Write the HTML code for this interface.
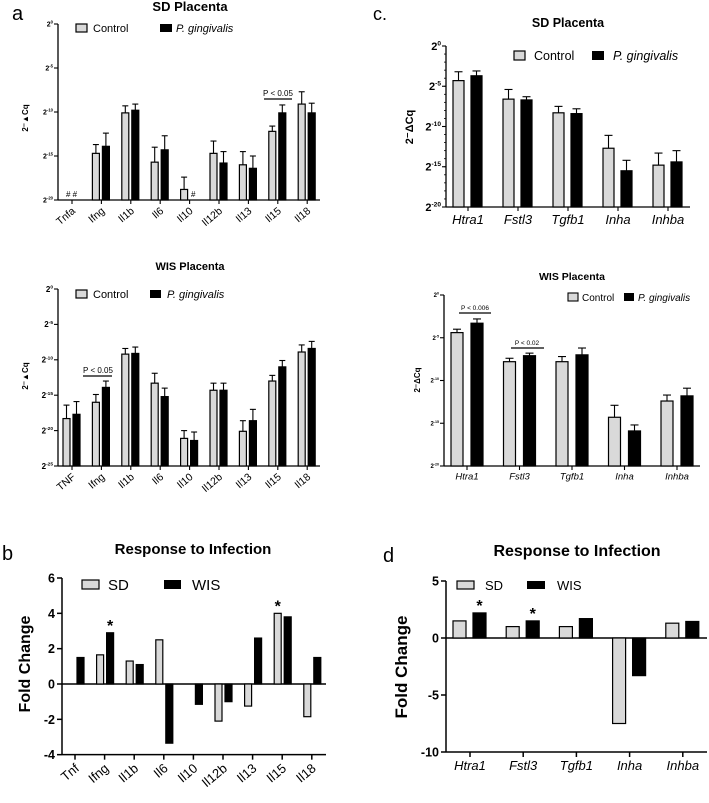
<!DOCTYPE html>
<html><head><meta charset="utf-8"><style>
html,body{margin:0;padding:0;background:#fff;}
svg{display:block;font-family:"Liberation Sans",Arial,sans-serif;}
</style></head><body>
<svg id="fig" width="709" height="803" viewBox="0 0 709 803" xmlns="http://www.w3.org/2000/svg">
<rect x="0" y="0" width="709" height="803" fill="#fff"/>
<text x="12" y="20" font-size="20">a</text>
<text x="373" y="20" font-size="18">c.</text>
<text x="2" y="560" font-size="20">b</text>
<text x="383" y="562" font-size="20">d</text>
</svg>
<script>
// ---- Panel a (SD placenta), log2 values (exponents) ----
var aGenes = ["Tnfa","Ifng","Il1b","Il6","Il10","Il12b","Il13","Il15","Il18"];
var aSdCtrl = [null,-14.7,-10.1,-15.7,-18.8,-14.7,-16.0,-12.2,-9.1];
var aSdCtrlErr = [null,-13.7,-9.3,-14.0,-17.4,-13.3,-14.5,-11.6,-7.7];
var aSdPg = [null,-13.9,-9.8,-14.3,null,-15.8,-16.4,-10.1,-10.1];
var aSdPgErr = [null,-12.4,-9.1,-12.7,null,-14.5,-15.0,-9.2,-9.0];
var aSdTicks = [0,-5,-10,-15,-20];
// ---- Panel a (WIS placenta) ----
var aWisGenes = ["TNF","Ifng","Il1b","Il6","Il10","Il12b","Il13","Il15","Il18"];
var aWisCtrl = [-18.3,-16.0,-9.2,-13.3,-21.1,-14.3,-20.1,-13.0,-8.9];
var aWisCtrlErr = [-16.4,-14.9,-8.4,-11.9,-20.0,-13.3,-18.6,-12.2,-7.9];
var aWisPg = [-17.7,-13.9,-9.1,-15.2,-21.4,-14.3,-18.6,-11.0,-8.4];
var aWisPgErr = [-15.9,-13.0,-8.2,-14.0,-20.2,-13.3,-17.0,-10.1,-7.4];
var aWisTicks = [0,-5,-10,-15,-20,-25];
// ---- Panel b ----
var bGenes = ["Tnf","Ifng","Il1b","Il6","Il10","Il12b","Il13","Il15","Il18"];
var bSD = [null,1.65,1.3,2.5,null,-2.1,-1.25,4.0,-1.85];
var bWIS = [1.5,2.9,1.1,-3.35,-1.15,-1.0,2.6,3.8,1.5];
var bTicks = [6,4,2,0,-2,-4];
// ---- Panel c (SD) ----
var cGenes = ["Htra1","Fstl3","Tgfb1","Inha","Inhba"];
var cSdCtrl = [-4.3,-6.6,-8.3,-12.7,-14.8];
var cSdCtrlErr = [-3.2,-5.4,-7.5,-11.1,-13.3];
var cSdPg = [-3.7,-6.7,-8.4,-15.5,-14.4];
var cSdPgErr = [-3.1,-6.3,-7.8,-14.2,-13.0];
var cSdTicks = [0,-5,-10,-15,-20];
// ---- Panel c (WIS) ----
var cWisCtrl = [-4.4,-7.8,-7.8,-14.3,-12.4];
var cWisCtrlErr = [-4.0,-7.4,-7.2,-12.9,-11.7];
var cWisPg = [-3.3,-7.1,-7.0,-15.9,-11.8];
var cWisPgErr = [-2.8,-6.8,-6.2,-15.2,-10.9];
var cWisTicks = [0,-5,-10,-15,-20];
// ---- Panel d ----
var dGenes = ["Htra1","Fstl3","Tgfb1","Inha","Inhba"];
var dSD = [1.5,1.0,1.0,-7.5,1.3];
var dWIS = [2.2,1.5,1.7,-3.3,1.45];
var dTicks = [5,0,-5,-10];

var NS="http://www.w3.org/2000/svg";
var svg=document.getElementById('fig');
function mk(tag,attrs,name){
  var el=document.createElementNS(NS,tag);
  for(var k in attrs) el.setAttribute(k,attrs[k]);
  
  
  svg.appendChild(el);
  return el;
}
function txt(x,y,s,size,name,extra){
  var a={x:x,y:y,'font-size':size};
  for(var k in extra) a[k]=extra[k];
  var t=mk('text',a,name); t.textContent=s; return t;
}
function pow2(x,y,exp,size,name,anchor){
  var t=mk('text',{x:x,y:y,'font-size':size,'font-weight':'bold','text-anchor':anchor||'end'},name);
  var b=document.createElementNS(NS,'tspan'); b.textContent='2'; t.appendChild(b);
  var s=document.createElementNS(NS,'tspan'); s.setAttribute('font-size',size*0.6); s.setAttribute('dy',-size*0.4); s.textContent=String(exp); t.appendChild(s);
  return t;
}
function line(x1,y1,x2,y2,w,name){return mk('line',{x1:x1,y1:y1,x2:x2,y2:y2,stroke:'#000','stroke-width':w},name);}

function logChart(o){
  var ys=function(v){return o.yTop+(o.yBot-o.yTop)*(v-o.vTop)/(o.vBot-o.vTop);};
  var xc=function(i){return o.x0c+i*o.step;};
  line(o.ax,o.yTop,o.ax,o.yBot,1.3,o.p+'-y-axis');
  line(o.ax,o.yBot,o.axEnd,o.yBot,1.3,o.p+'-x-axis');
  if(o.minor){for(var m=o.vTop;m>=o.vBot;m--){line(o.ax-2,ys(m),o.ax,ys(m),0.8,o.p+'-minor-tick');}}
  o.ticks.forEach(function(t){
    line(o.ax-4,ys(t),o.ax,ys(t),1.1,o.p+'-y-tick');
    pow2(o.ax-5,ys(t)+o.tf*0.35,t,o.tf,o.p+'-y-tick-label');
  });
  o.genes.forEach(function(g,i){
    line(xc(i),o.yBot,xc(i),o.yBot+4,1.1,o.p+'-x-tick');
    if(o.rot){txt(xc(i)+4,o.yBot+12,g,o.xf,o.p+'-x-label',{'text-anchor':'end',transform:'rotate(-40 '+(xc(i)+4)+' '+(o.yBot+12)+')'});}
    else{txt(xc(i),o.yBot+o.xf+4,g,o.xf,o.p+'-x-label',{'text-anchor':'middle','font-style':'italic'});}
    [[o.ctrl,o.ctrlErr,'#d9d9d9',o.cOff,'control'],[o.pg,o.pgErr,'#000',o.pOff,'pg']].forEach(function(s){
      var v=s[0][i]; if(v===null) return;
      var x=xc(i)+s[3], y=ys(v), e=ys(s[1][i]);
      line(x+o.bw/2,e,x+o.bw/2,y,1.1,o.p+'-error-bar-'+s[4]);
      line(x+o.bw/2-o.cap,e,x+o.bw/2+o.cap,e,1.1,o.p+'-error-cap-'+s[4]);
      mk('rect',{x:x,y:y,width:o.bw,height:o.yBot-y,fill:s[2],stroke:'#000','stroke-width':1.2},o.p+'-bar-'+s[4]+'-'+g);
    });
  });
  return {ys:ys,xc:xc};
}

// Panel a top
logChart({p:'a-sd',ax:58,axEnd:320,yTop:24,yBot:200,vTop:0,vBot:-20,ticks:aSdTicks,tf:7,genes:aGenes,x0c:72,step:29.4,
  ctrl:aSdCtrl,ctrlErr:aSdCtrlErr,pg:aSdPg,pgErr:aSdPgErr,bw:7,cOff:-9,pOff:1,cap:3,rot:true,xf:10.5});
txt(190,11,'SD Placenta',13,'a-sd-title',{'font-weight':'bold','text-anchor':'middle'});
txt(66,197,'# #',8,'a-sd-tnfa-marker',{}); txt(191,197,'#',8,'a-sd-il10-marker',{});
line(264,99,292,99,1.2,'a-sd-significance-bar'); txt(278,96,'P < 0.05',8,'a-sd-p-value',{'text-anchor':'middle'});
mk('rect',{x:76,y:24,width:11,height:8,fill:'#d9d9d9',stroke:'#000','stroke-width':1.2},'a-sd-legend-control-swatch');
txt(93,32,'Control',11,'a-sd-legend-control',{});
mk('rect',{x:160,y:24,width:12,height:8,fill:'#000'},'a-sd-legend-pg-swatch');
txt(176,32,'P. gingivalis',11,'a-sd-legend-pg',{'font-style':'italic'});
txt(28,118,'2\u207B\u25B2Cq',8,'a-sd-y-title',{'font-weight':'bold','text-anchor':'middle',transform:'rotate(-90 28 118)'});

// Panel a bottom
logChart({p:'a-wis',ax:58,axEnd:320,yTop:289,yBot:466,vTop:0,vBot:-25,ticks:aWisTicks,tf:8,genes:aWisGenes,x0c:72,step:29.4,
  ctrl:aWisCtrl,ctrlErr:aWisCtrlErr,pg:aWisPg,pgErr:aWisPgErr,bw:7,cOff:-9,pOff:1,cap:3,rot:true,xf:10.5});
txt(190,270,'WIS Placenta',11,'a-wis-title',{'font-weight':'bold','text-anchor':'middle'});
line(83,376,112,376,1.2,'a-wis-significance-bar'); txt(98,373,'P < 0.05',8,'a-wis-p-value',{'text-anchor':'middle'});
mk('rect',{x:76,y:290,width:11,height:8,fill:'#d9d9d9',stroke:'#000','stroke-width':1.2},'a-wis-legend-control-swatch');
txt(93,298,'Control',11,'a-wis-legend-control',{});
mk('rect',{x:150,y:290,width:11,height:8,fill:'#000'},'a-wis-legend-pg-swatch');
txt(167,298,'P. gingivalis',11,'a-wis-legend-pg',{'font-style':'italic'});
txt(28,376,'2\u207B\u25B2Cq',8,'a-wis-y-title',{'font-weight':'bold','text-anchor':'middle',transform:'rotate(-90 28 376)'});

// Panel c top
logChart({p:'c-sd',ax:446,axEnd:690,yTop:46,yBot:207,vTop:0,vBot:-20,ticks:cSdTicks,tf:11,genes:cGenes,x0c:468,step:50,minor:true,
  ctrl:cSdCtrl,ctrlErr:cSdCtrlErr,pg:cSdPg,pgErr:cSdPgErr,bw:11,cOff:-15,pOff:3,cap:4,rot:false,xf:13});
txt(568,27,'SD Placenta',12.5,'c-sd-title',{'font-weight':'bold','text-anchor':'middle'});
mk('rect',{x:514,y:51,width:11,height:9,fill:'#d9d9d9',stroke:'#000','stroke-width':1.2},'c-sd-legend-control-swatch');
txt(534,60,'Control',12.5,'c-sd-legend-control',{});
mk('rect',{x:592,y:51,width:12,height:9,fill:'#000'},'c-sd-legend-pg-swatch');
txt(613,60,'P. gingivalis',12.5,'c-sd-legend-pg',{'font-style':'italic'});
txt(413,127,'2\u207B\u0394Cq',11,'c-sd-y-title',{'font-weight':'bold','text-anchor':'middle',transform:'rotate(-90 413 127)'});

// Panel c bottom
logChart({p:'c-wis',ax:444,axEnd:700,yTop:295,yBot:466,vTop:0,vBot:-20,ticks:cWisTicks,tf:6,genes:cGenes,x0c:467,step:52.5,
  ctrl:cWisCtrl,ctrlErr:cWisCtrlErr,pg:cWisPg,pgErr:cWisPgErr,bw:12,cOff:-16,pOff:4,cap:4,rot:false,xf:9.5});
txt(572,280,'WIS Placenta',10.5,'c-wis-title',{'font-weight':'bold','text-anchor':'middle'});
mk('rect',{x:568,y:293,width:10,height:8,fill:'#d9d9d9',stroke:'#000','stroke-width':1.1},'c-wis-legend-control-swatch');
txt(582,301,'Control',10,'c-wis-legend-control',{});
mk('rect',{x:624,y:293,width:10,height:8,fill:'#000'},'c-wis-legend-pg-swatch');
txt(638,301,'P. gingivalis',10,'c-wis-legend-pg',{'font-style':'italic'});
line(459,313,491,313,1.2,'c-wis-sig-bar-htra1'); txt(475,310,'P < 0.006',6.5,'c-wis-p-htra1',{'text-anchor':'middle'});
line(511,348,544,348,1.2,'c-wis-sig-bar-fstl3'); txt(527,345,'P < 0.02',6.5,'c-wis-p-fstl3',{'text-anchor':'middle'});
txt(420,380,'2\u207B\u0394Cq',8,'c-wis-y-title',{'font-weight':'bold','text-anchor':'middle',transform:'rotate(-90 420 380)'});

// Fold change charts
function foldChart(o){
  var ys=function(v){return o.y0+(v-o.v0)*(o.y1-o.y0)/(o.v1-o.v0);};
  var xc=function(i){return o.x0c+i*o.step;};
  var yBot=ys(o.ticks[o.ticks.length-1]), yTop=ys(o.ticks[0]);
  line(o.ax,yTop,o.ax,yBot,1.5,o.p+'-y-axis');
  line(o.ax,yBot,o.axEnd,yBot,1.5,o.p+'-x-axis');
  line(o.ax,ys(0),o.axEnd,ys(0),1.5,o.p+'-zero-line');
  o.ticks.forEach(function(t){
    line(o.ax-5,ys(t),o.ax,ys(t),1.5,o.p+'-y-tick');
    txt(o.ax-7,ys(t)+4.5,String(t),12.5,o.p+'-y-tick-label',{'font-weight':'bold','text-anchor':'end'});
  });
  o.genes.forEach(function(g,i){
    line(xc(i),yBot,xc(i),yBot+5,1.5,o.p+'-x-tick');
    if(o.rot){txt(xc(i)+5,yBot+15,g,13,o.p+'-x-label',{'text-anchor':'end',transform:'rotate(-40 '+(xc(i)+5)+' '+(yBot+15)+')'});}
    else{txt(xc(i),yBot+18,g,13,o.p+'-x-label',{'text-anchor':'middle','font-style':'italic'});}
    [[o.sd,'#d9d9d9',o.cOff,'sd'],[o.wis,'#000',o.pOff,'wis']].forEach(function(s){
      var v=s[0][i]; if(v===null) return;
      var y=Math.min(ys(v),ys(0)), h=Math.abs(ys(v)-ys(0));
      mk('rect',{x:xc(i)+s[2],y:y,width:o.bw,height:h,fill:s[1],stroke:'#000','stroke-width':1.2},o.p+'-bar-'+s[3]+'-'+g);
    });
  });
  return {ys:ys,xc:xc};
}
var bc=foldChart({p:'b',ax:62,axEnd:326,y0:684,y1:578,v0:0,v1:6,ticks:bTicks,genes:bGenes,x0c:75,step:29.6,bw:7,cOff:-8,pOff:2,sd:bSD,wis:bWIS,rot:true});
txt(193,554,'Response to Infection',15,'b-title',{'font-weight':'bold','text-anchor':'middle'});
txt(25,664,'Fold Change',16,'b-y-title',{'font-weight':'bold','text-anchor':'middle',transform:'rotate(-90 25 664)',dy:'5'});
mk('rect',{x:82,y:580,width:17,height:9,fill:'#d9d9d9',stroke:'#000','stroke-width':1.2},'b-legend-sd-swatch');
txt(108,590,'SD',15,'b-legend-sd',{});
mk('rect',{x:164,y:580,width:17,height:9,fill:'#000'},'b-legend-wis-swatch');
txt(192,590,'WIS',15,'b-legend-wis',{});
txt(bc.xc(1)+5.5,bc.ys(bWIS[1])-2,'*',16,'b-star-ifng',{'font-weight':'bold','text-anchor':'middle'});
txt(bc.xc(7)-4.5,bc.ys(bSD[7])-2,'*',16,'b-star-il15',{'font-weight':'bold','text-anchor':'middle'});

var dc=foldChart({p:'d',ax:446,axEnd:707,y0:638,y1:581,v0:0,v1:5,ticks:dTicks,genes:dGenes,x0c:470,step:53.2,bw:13,cOff:-17,pOff:3,sd:dSD,wis:dWIS,rot:false});
txt(577,556,'Response to Infection',16,'d-title',{'font-weight':'bold','text-anchor':'middle'});
txt(402,667,'Fold Change',17,'d-y-title',{'font-weight':'bold','text-anchor':'middle',transform:'rotate(-90 402 667)',dy:'5'});
mk('rect',{x:457,y:581,width:17,height:8,fill:'#d9d9d9',stroke:'#000','stroke-width':1.2},'d-legend-sd-swatch');
txt(485,590,'SD',13,'d-legend-sd',{});
mk('rect',{x:527,y:581,width:18,height:8,fill:'#000'},'d-legend-wis-swatch');
txt(557,590,'WIS',13,'d-legend-wis',{});
txt(dc.xc(0)+9.5,dc.ys(dWIS[0])-2,'*',16,'d-star-htra1',{'font-weight':'bold','text-anchor':'middle'});
txt(dc.xc(1)+9.5,dc.ys(dWIS[1])-2,'*',16,'d-star-fstl3',{'font-weight':'bold','text-anchor':'middle'});
</script>
</body></html>
